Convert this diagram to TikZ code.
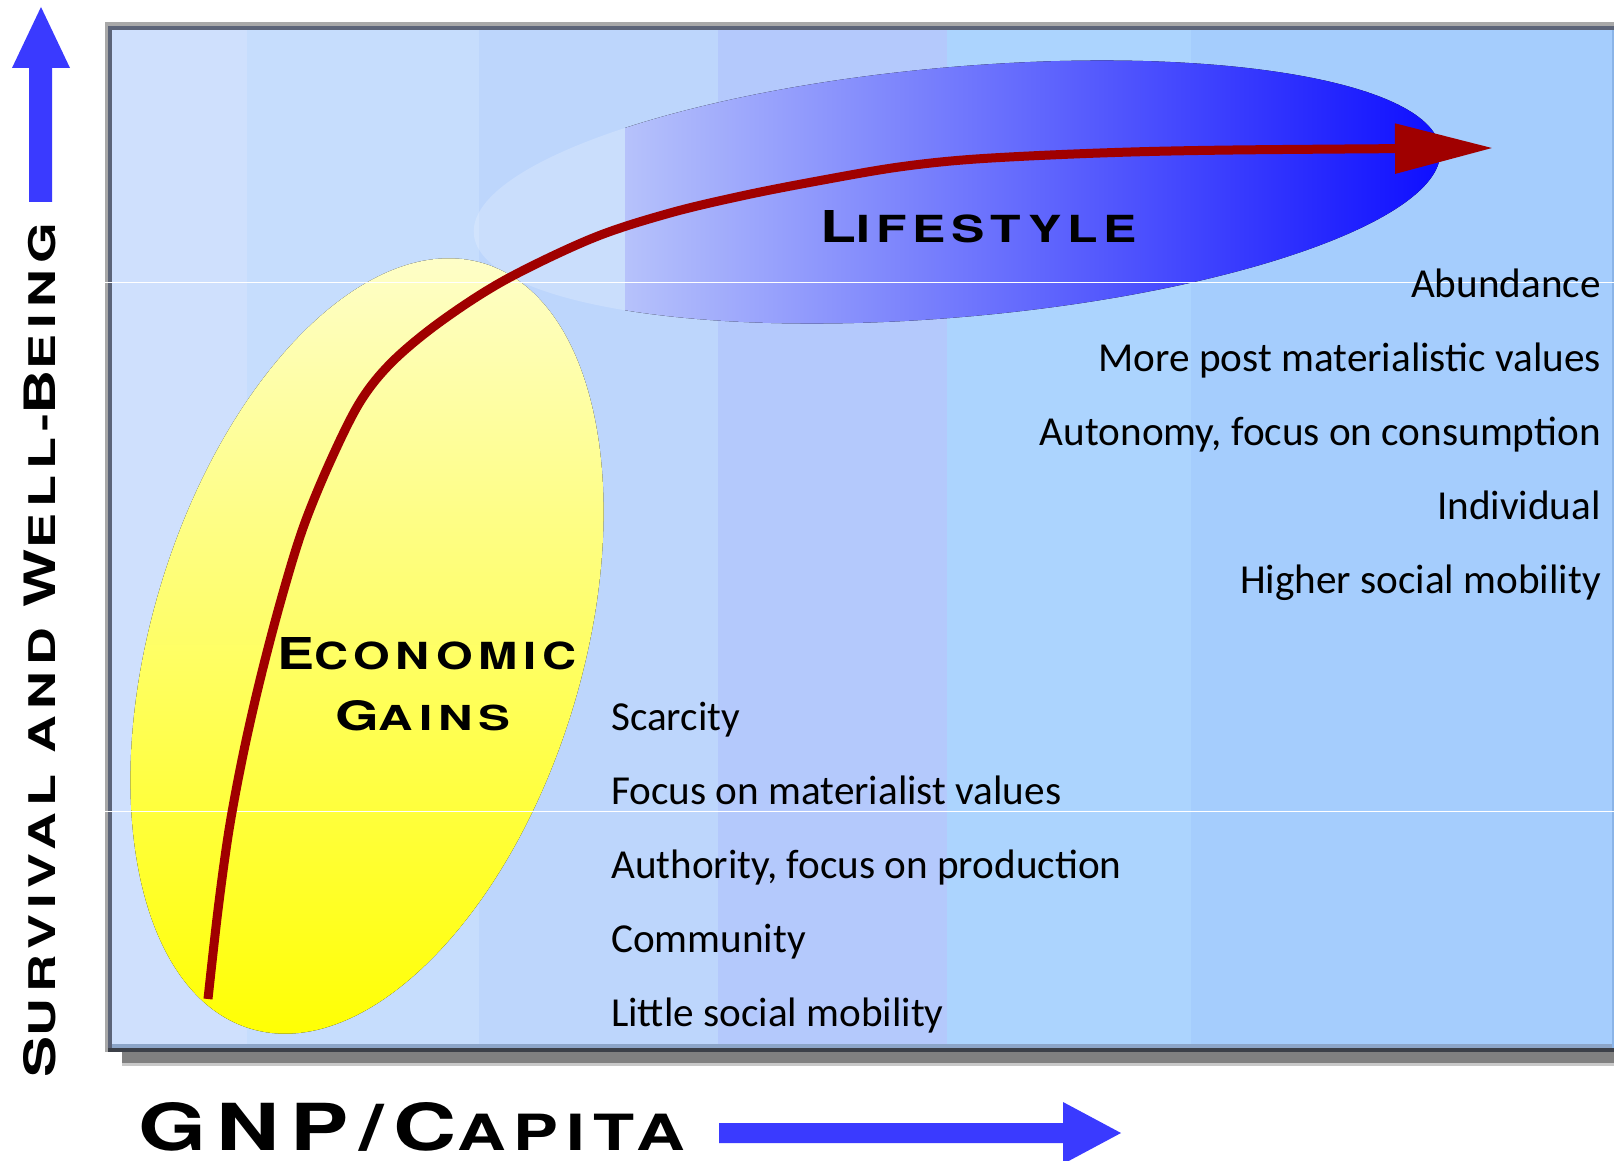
\documentclass[tikz,border=0pt]{standalone}
\usepackage{graphicx}
\usepackage{fontspec}
\setmainfont{Carlito}
\newfontfamily\titlefont[LetterSpace=12]{TeX Gyre Heros}
\usetikzlibrary{arrows.meta}
\definecolor{bandA}{RGB}{207,224,253}
\definecolor{bandB}{RGB}{198,221,253}
\definecolor{bandC}{RGB}{189,214,252}
\definecolor{bandD}{RGB}{180,201,252}
\definecolor{bandE}{RGB}{172,212,254}
\definecolor{bandF}{RGB}{165,205,253}
\definecolor{frameLt}{RGB}{168,168,168}
\definecolor{frameDk}{RGB}{92,100,120}
\definecolor{frameBot}{RGB}{60,64,72}
\definecolor{frameStrip}{RGB}{140,165,200}
\definecolor{frameRight}{RGB}{138,180,232}
\definecolor{shadowG}{RGB}{128,128,128}
\definecolor{shadowL}{RGB}{200,200,200}
\definecolor{arrowBlue}{RGB}{58,58,255}
\definecolor{redArrow}{RGB}{160,0,0}
\definecolor{leafL}{RGB}{182,194,251}
\definecolor{leafR}{RGB}{12,12,255}
\definecolor{yelTop}{RGB}{254,254,204}
\definecolor{yelMid}{RGB}{255,255,110}
\definecolor{yelBot}{RGB}{255,255,0}
\newcommand{\tbig}[1]{{\fontsize{10}{12}\selectfont #1}}
\newcommand{\tsml}[1]{{\fontsize{8.5}{12}\selectfont #1}}
\newcommand{\tsmlb}[1]{{\fontsize{7.7}{12}\selectfont #1}}
\newcommand{\ttl}[3]{\resizebox{#1}{#2}{\titlefont\bfseries #3}}
\begin{document}
\begin{tikzpicture}[x=1pt,y=-1pt,
  txt/.style={inner sep=0pt, font=\fontsize{41.2}{48}\selectfont, text=black},
  ttlnode/.style={inner sep=0pt, text=black},
  blockarrow/.style={fill=arrowBlue},
  hair/.style={draw=white, line width=1pt},
  growth/.style={draw=redArrow, line width=9pt, -{Triangle[length=98pt,width=48pt]}}]
\useasboundingbox (0,0) rectangle (1614,1161);
\fill[white] (0,0) rectangle (1614,1161);
% shadow and frame
\fill[shadowG] (122,1052) rectangle (1614,1063);
\fill[shadowL] (122,1063) rectangle (1614,1066);
\fill[frameLt] (105,22) rectangle (1614,1052);
\fill[frameDk] (108,26) rectangle (1614,1052);
% background bands
\fill[bandA] (112,30) rectangle (247,1044);
\fill[bandB] (247,30) rectangle (479,1044);
\fill[bandC] (479,30) rectangle (718,1044);
\fill[bandD] (718,30) rectangle (947,1044);
\fill[bandE] (947,30) rectangle (1191,1044);
\fill[bandF] (1191,30) rectangle (1612,1044);
\fill[frameStrip] (112,1044) rectangle (1612,1048);
\fill[frameBot] (108,1048) rectangle (1614,1052);
\fill[frameRight] (1612,30) rectangle (1614,1048);
% lifestyle leaf
\begin{scope}
  \clip (0,0) rectangle (625,1161);
  \fill[white, opacity=0.2, shift={(957,192)}, rotate=5] (0,0) ellipse [x radius=485pt, y radius=125pt];
\end{scope}
\begin{scope}
  \clip (625,0) rectangle (1614,1161);
  \clip[shift={(957,192)}, rotate=5] (0,0) ellipse [x radius=485pt, y radius=125pt];
  \fill[left color=leafL, right color=leafR] (625,40) rectangle (1450,340);
\end{scope}
% economic gains ellipse
\begin{scope}
  \clip[shift={(367,646)}, rotate=-17] (0,0) ellipse [x radius=215pt, y radius=400pt];
  \fill[top color=yelTop, middle color=yelMid, bottom color=yelBot] (100,240) rectangle (620,1050);
\end{scope}
% hairlines
\draw[hair] (105,282) -- (1614,282);
\draw[hair] (105,811) -- (1614,811);
% growth curve
\draw[growth] plot[smooth, tension=0.55] coordinates {(208,999) (218,910) (229,830) (243,755) (260,680) (281,600) (303,528) (330,462) (360,402) (392,362) (440,322) (505,280) (593,238) (670,213) (746,195) (823,180) (899,167) (976,159) (1100,153) (1233,150) (1493,148)};
% axis arrows
\fill[blockarrow] (29,202) -- (29,68) -- (12,68) -- (41,7) -- (70,68) -- (52,68) -- (52,202) -- cycle;
\fill[blockarrow] (719,1123) -- (1063,1123) -- (1063,1102) -- (1121,1133) -- (1063,1164) -- (1063,1143) -- (719,1143) -- cycle;
% titles
\node[ttlnode, anchor=base west] (lifestyle) at (820,242) {\ttl{317pt}{32pt}{\tbig{L}\tsml{IFESTYLE}}};
\node[ttlnode, anchor=base west] (economic) at (277,669) {\ttl{299pt}{32pt}{\tbig{E}\tsml{CONOMIC}}};
\node[ttlnode, anchor=base west] (gains) at (335,730) {\ttl{175pt}{30pt}{\tbig{G}\tsml{AINS}}};
\node[ttlnode, anchor=base west] (xaxis) at (138,1150) {\ttl{547pt}{48pt}{\tbig{GNP/C}\tsmlb{APITA}}};
\node[ttlnode, anchor=base west, rotate=90] (yaxis) at (55,1078) {\ttl{855pt}{32pt}{\tbig{S}\tsml{URVIVAL AND }\tbig{W}\tsml{ELL-}\tbig{B}\tsml{EING}}};
% right column
\node[txt, anchor=base east] (abund) at (1601,297) {Abundance};
\node[txt, anchor=base east] (postmat) at (1601,371) {More post materialistic values};
\node[txt, anchor=base east] (autonomy) at (1601,445) {Autonomy, focus on consumption};
\node[txt, anchor=base east] (indiv) at (1601,519) {Individual};
\node[txt, anchor=base east] (higher) at (1601,593) {Higher social mobility};
% left column
\node[txt, anchor=base west] (scarcity) at (611,730) {Scarcity};
\node[txt, anchor=base west] (matval) at (611,804) {Focus on materialist values};
\node[txt, anchor=base west] (authority) at (611,878) {Authority, focus on production};
\node[txt, anchor=base west] (community) at (611,952) {Community};
\node[txt, anchor=base west] (little) at (611,1026) {Little social mobility};
\end{tikzpicture}
\end{document}
